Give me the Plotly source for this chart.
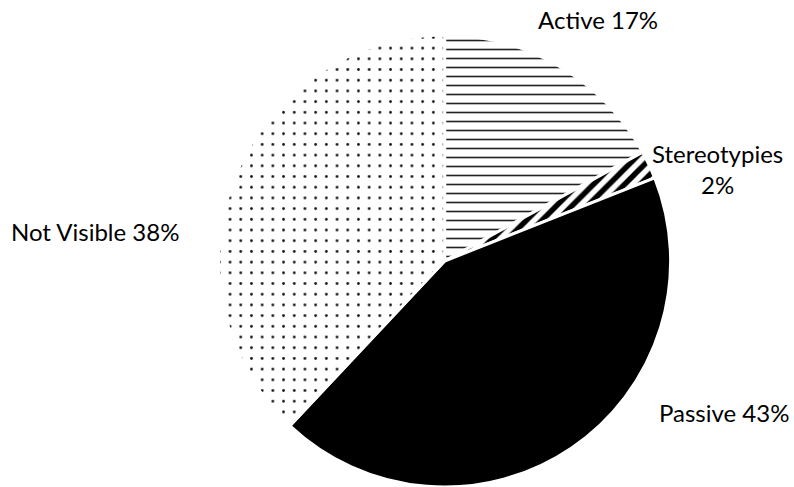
import plotly.graph_objects as go

labels = ["Active", "Stereotypies", "Passive", "Not Visible"]
values = [17, 2, 43, 38]
label_text = ["Active 17%", "Stereotypies<br>2%", "Passive 43%", "Not Visible 38%"]

fig = go.Figure()
fig.add_trace(go.Pie(
    labels=labels,
    values=values,
    sort=False,
    direction="clockwise",
    rotation=0,
    textinfo="none",
    hoverinfo="label+percent",
    domain=dict(x=[0.2, 0.92], y=[0.0, 0.928]),
    marker=dict(
        colors=["white", "white", "black", "white"],
        line=dict(color="white", width=3),
        pattern=dict(
            shape=["-", "/", "", "."],
            fgcolor=["#222222", "black", "black", "#111111"],
            fgopacity=1,
            bgcolor=["white", "white", "black", "white"],
            size=[9, 11, 8, 10.7],
            solidity=[0.18, 0.5, 0.5, 0.05],
            fillmode="overlay",
        ),
    ),
    showlegend=False,
))

# label positions (paper coords)
pos = [(0.753, 0.959), (0.904, 0.653), (0.912, 0.154), (0.120, 0.524)]
for t, (x, y) in zip(label_text, pos):
    fig.add_annotation(x=x, y=y, xref="paper", yref="paper", text=t,
                       showarrow=False, xanchor="center", yanchor="middle",
                       font=dict(family="Lato", size=24, color="black"))

fig.update_layout(width=794, height=487, margin=dict(l=0, r=0, t=0, b=0),
                  paper_bgcolor="white", plot_bgcolor="white")
fig.write_html("out.html")
